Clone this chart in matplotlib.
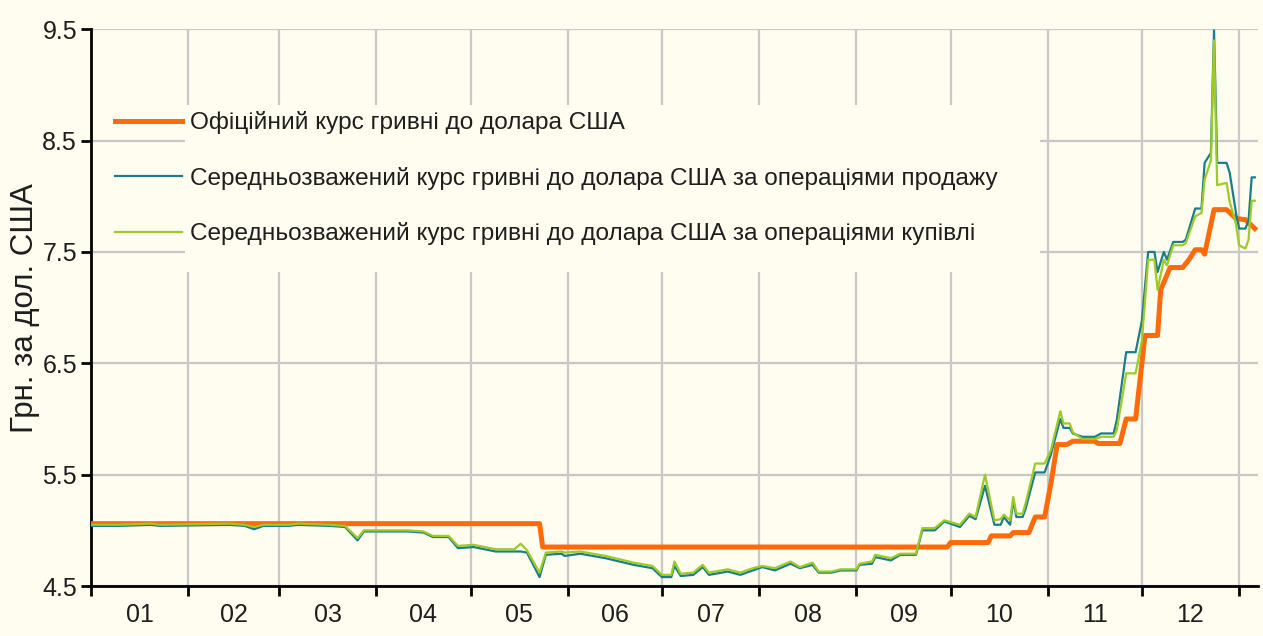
import matplotlib
matplotlib.use("Agg")
import matplotlib.pyplot as plt
from matplotlib.patches import Rectangle
import pandas as pd

plt.rcParams['font.family'] = ['Liberation Sans', 'DejaVu Sans']

# ---------------- data ----------------
official_dates = ["2008-01-01", "2008-05-23", "2008-05-24", "2008-09-30", "2008-10-01",
                  "2008-10-13", "2008-10-14", "2008-10-20", "2008-10-21", "2008-10-26",
                  "2008-10-28", "2008-10-31", "2008-11-02", "2008-11-04", "2008-11-07",
                  "2008-11-09", "2008-11-16", "2008-11-17", "2008-11-24", "2008-11-26",
                  "2008-11-29", "2008-12-02", "2008-12-06", "2008-12-07", "2008-12-10",
                  "2008-12-14", "2008-12-16", "2008-12-18", "2008-12-20", "2008-12-21",
                  "2008-12-24", "2008-12-28", "2008-12-31", "2009-01-03", "2009-01-06"]
official_rate = [5.06, 5.06, 4.85, 4.85, 4.89,
                 4.89, 4.95, 4.95, 4.98, 4.98,
                 5.12, 5.12, 5.42, 5.77, 5.77,
                 5.80, 5.80, 5.78, 5.78, 6.00,
                 6.00, 6.75, 6.75, 7.16, 7.36,
                 7.36, 7.43, 7.52, 7.52, 7.48,
                 7.88, 7.88, 7.80, 7.79, 7.71]

market_dates = ["2008-01-01", "2008-01-10", "2008-01-20", "2008-01-23", "2008-02-14",
                "2008-02-19", "2008-02-22", "2008-02-25", "2008-03-04", "2008-03-07",
                "2008-03-17", "2008-03-22", "2008-03-26", "2008-03-28", "2008-04-11",
                "2008-04-16", "2008-04-19", "2008-04-24", "2008-04-27", "2008-05-02",
                "2008-05-09", "2008-05-15", "2008-05-17", "2008-05-19", "2008-05-23",
                "2008-05-25", "2008-05-30", "2008-05-31", "2008-06-05", "2008-06-13",
                "2008-06-22", "2008-06-28", "2008-07-01", "2008-07-04", "2008-07-05",
                "2008-07-07", "2008-07-11", "2008-07-14", "2008-07-16", "2008-07-22",
                "2008-07-26", "2008-07-30", "2008-08-02", "2008-08-06", "2008-08-11",
                "2008-08-14", "2008-08-18", "2008-08-20", "2008-08-24", "2008-08-27",
                "2008-09-01", "2008-09-02", "2008-09-06", "2008-09-07", "2008-09-12",
                "2008-09-15", "2008-09-20", "2008-09-22", "2008-09-26", "2008-09-29",
                "2008-10-04", "2008-10-07", "2008-10-09", "2008-10-12", "2008-10-15",
                "2008-10-17", "2008-10-18", "2008-10-20", "2008-10-21", "2008-10-22",
                "2008-10-24", "2008-10-25", "2008-10-28", "2008-10-31", "2008-11-02",
                "2008-11-05", "2008-11-06", "2008-11-08", "2008-11-09", "2008-11-12",
                "2008-11-16", "2008-11-18", "2008-11-22", "2008-11-23", "2008-11-26",
                "2008-11-29", "2008-12-01", "2008-12-03", "2008-12-05", "2008-12-06",
                "2008-12-08", "2008-12-09", "2008-12-11", "2008-12-14", "2008-12-15",
                "2008-12-18", "2008-12-20", "2008-12-21", "2008-12-23", "2008-12-24",
                "2008-12-25", "2008-12-28", "2008-12-29", "2008-12-31", "2009-01-01",
                "2009-01-03", "2009-01-04", "2009-01-05", "2009-01-06"]

sale_rate = [5.04, 5.04, 5.05, 5.04, 5.05,
             5.04, 5.01, 5.04, 5.04, 5.05,
             5.04, 5.03, 4.91, 4.99, 4.99,
             4.98, 4.94, 4.94, 4.84, 4.85,
             4.81, 4.81, 4.81, 4.80, 4.58,
             4.78, 4.79, 4.77, 4.79, 4.75,
             4.69, 4.66, 4.58, 4.58, 4.68,
             4.59, 4.60, 4.67, 4.60, 4.63,
             4.60, 4.64, 4.67, 4.64, 4.70,
             4.66, 4.69, 4.62, 4.62, 4.64,
             4.64, 4.69, 4.70, 4.76, 4.73,
             4.78, 4.78, 5.00, 5.00, 5.08,
             5.03, 5.13, 5.10, 5.40, 5.05,
             5.05, 5.12, 5.05, 5.27, 5.12,
             5.12, 5.20, 5.52, 5.52, 5.68,
             6.00, 5.92, 5.92, 5.87, 5.84,
             5.84, 5.87, 5.87, 5.99, 6.60,
             6.60, 6.88, 7.50, 7.50, 7.32,
             7.50, 7.43, 7.59, 7.59, 7.61,
             7.89, 7.89, 8.30, 8.39, 9.49,
             8.30, 8.30, 8.21, 7.85, 7.71,
             7.71, 7.78, 8.17, 8.17]

purchase_rate = [5.05, 5.05, 5.06, 5.05, 5.06,
                 5.05, 5.03, 5.05, 5.05, 5.06,
                 5.05, 5.04, 4.93, 5.00, 5.00,
                 4.99, 4.95, 4.95, 4.86, 4.87,
                 4.83, 4.83, 4.88, 4.82, 4.62,
                 4.80, 4.81, 4.80, 4.81, 4.77,
                 4.71, 4.68, 4.60, 4.60, 4.72,
                 4.61, 4.62, 4.69, 4.62, 4.65,
                 4.62, 4.66, 4.68, 4.66, 4.72,
                 4.67, 4.71, 4.63, 4.63, 4.65,
                 4.65, 4.70, 4.72, 4.78, 4.75,
                 4.79, 4.79, 5.02, 5.02, 5.09,
                 5.05, 5.15, 5.12, 5.50, 5.09,
                 5.10, 5.14, 5.09, 5.30, 5.15,
                 5.15, 5.25, 5.60, 5.60, 5.72,
                 6.07, 5.96, 5.96, 5.88, 5.82,
                 5.82, 5.84, 5.84, 5.90, 6.41,
                 6.41, 6.70, 7.43, 7.43, 7.16,
                 7.43, 7.38, 7.56, 7.56, 7.58,
                 7.82, 7.85, 8.15, 8.32, 9.40,
                 8.10, 8.12, 7.95, 7.75, 7.56,
                 7.53, 7.61, 7.96, 7.96]

labels = ["Офіційний курс гривні до долара США",
          "Середньозважений курс гривні до долара США за операціями продажу",
          "Середньозважений курс гривні до долара США за операціями купівлі"]
month_labels = ["01", "02", "03", "04", "05", "06", "07", "08", "09", "10", "11", "12"]
y_ticks = [4.5, 5.5, 6.5, 7.5, 8.5, 9.5]
y_label = "Грн. за дол. США"

# ---------------- figure ----------------
BG = "#FFFCF0"
TXT = "#1E1E1E"
fig = plt.figure(figsize=(12.63, 6.36), dpi=100, facecolor=BG)
ax = fig.add_axes([0.072, 0.0786, 0.924, 0.8754], facecolor=BG)

od = pd.to_datetime(official_dates)
md = pd.to_datetime(market_dates)

l1, = ax.plot(od, official_rate, color="#FF6A0A", lw=3.6, zorder=3)
l2, = ax.plot(md, sale_rate, color="#1B7D8C", lw=1.6, zorder=4)
l3, = ax.plot(md, purchase_rate, color="#9CCB25", lw=1.6, zorder=5)

ax.set_ylim(4.5, 9.5)
ax.set_xlim(pd.Timestamp("2008-01-01"), pd.Timestamp("2009-01-07"))
ax.set_yticks(y_ticks)
ax.set_yticklabels([f"{v:.1f}" for v in y_ticks])

month_starts = pd.date_range("2008-01-01", "2009-01-01", freq="MS")
ax.set_xticks(month_starts)
ax.set_xticklabels([])
mids = [month_starts[i] + (month_starts[i + 1] - month_starts[i]) / 2 for i in range(12)]
ax.set_xticks(mids, minor=True)
ax.set_xticklabels(month_labels, minor=True)
ax.tick_params(axis="x", which="minor", length=0, pad=12, labelsize=18, labelcolor=TXT)
ax.tick_params(axis="x", which="major", length=7, width=2, direction="out", color="black")
ax.tick_params(axis="y", length=7, width=2, direction="out", labelsize=18, pad=3, color="black",
               labelcolor=TXT)

ax.grid(True, which="major", color="#C8C8C8", lw=1.6, zorder=0)
ax.set_axisbelow(True)
for s in ["top", "right"]:
    ax.spines[s].set_visible(False)
for s in ["left", "bottom"]:
    ax.spines[s].set_linewidth(2)
    ax.spines[s].set_color("black")

ax.set_ylabel(y_label, fontsize=22.5, color=TXT, labelpad=2)

# legend background covering the grid behind the text
ax.add_patch(Rectangle((0.0806, 0.5637), 0.733, 0.30, transform=ax.transAxes,
                       facecolor=BG, edgecolor="none", zorder=1))

leg = ax.legend([l1, l2, l3], labels, loc="upper left", bbox_to_anchor=(0.0206, 0.853),
                frameon=False, fontsize=17.6, handlelength=2.74, handletextpad=0.33,
                labelspacing=1.33, borderaxespad=0, borderpad=0)
for t in leg.get_texts():
    t.set_color(TXT)
leg.set_zorder(6)

fig.savefig("out.png", dpi=100, facecolor=BG)
